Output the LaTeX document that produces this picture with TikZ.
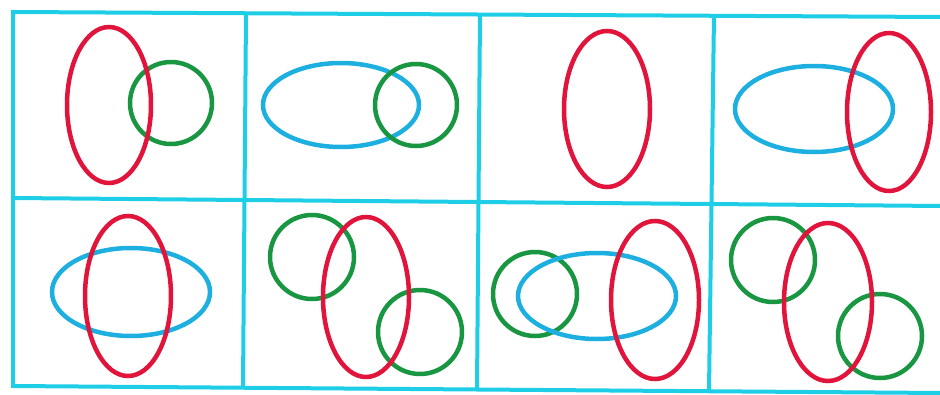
\documentclass[tikz,border=0pt]{standalone}
\definecolor{gridc}{RGB}{30,205,230}
\definecolor{bluec}{RGB}{30,175,225}
\definecolor{redc}{RGB}{225,20,60}
\definecolor{greenc}{RGB}{25,150,65}
\begin{document}
\begin{tikzpicture}[x=1pt,y=-1pt,
  gridline/.style={draw=gridc,line width=4pt},
  blueell/.style={draw=bluec,line width=4.5pt},
  redell/.style={draw=redc,line width=4.5pt},
  greencirc/.style={draw=greenc,line width=4.5pt}]
\useasboundingbox (0,0) rectangle (940,394);
% grid (slightly skewed like the scan; right border lies outside the picture)
\coordinate (tl) at (13,12);
\coordinate (tr) at (942,17);
\coordinate (ml) at (13,198);
\coordinate (mr) at (942,206);
\coordinate (bl) at (13,386);
\coordinate (br) at (942,393);
\draw[gridline,line cap=rect] (tr) -- (tl) -- (bl) -- (br);
\draw[gridline] (ml) -- (mr);
\draw[gridline] (246,13) -- (243,387);
\draw[gridline] (480,14) -- (477,389);
\draw[gridline] (714,15) -- (709,391);
% panel 1
\draw[greencirc] (171,103) circle [radius=41];
\draw[redell] (109,105) ellipse [x radius=42, y radius=78];
% panel 2
\draw[blueell] (341,105) ellipse [x radius=78, y radius=42];
\draw[greencirc] (416,105) circle [radius=41];
% panel 3
\draw[redell] (607,109) ellipse [x radius=43, y radius=78];
% panel 4
\draw[blueell] (814,109) ellipse [x radius=79, y radius=43];
\draw[redell] (889,112) ellipse [x radius=42, y radius=79];
% panel 5
\draw[blueell] (131,292) ellipse [x radius=79, y radius=44];
\draw[redell] (128,296) ellipse [x radius=43, y radius=80];
% panel 6
\draw[greencirc] (312,257) circle [radius=42];
\draw[greencirc] (420,332) circle [radius=42];
\draw[redell] (366,297) ellipse [x radius=43, y radius=80];
% panel 7
\draw[greencirc] (535,294) circle [radius=42];
\draw[blueell] (597,296) ellipse [x radius=79, y radius=43];
\draw[redell] (655,300) ellipse [x radius=44, y radius=79];
% panel 8
\draw[greencirc] (773,260) circle [radius=42];
\draw[greencirc] (880,336) circle [radius=42];
\draw[redell] (828,302) ellipse [x radius=44, y radius=79];
\end{tikzpicture}
\end{document}
